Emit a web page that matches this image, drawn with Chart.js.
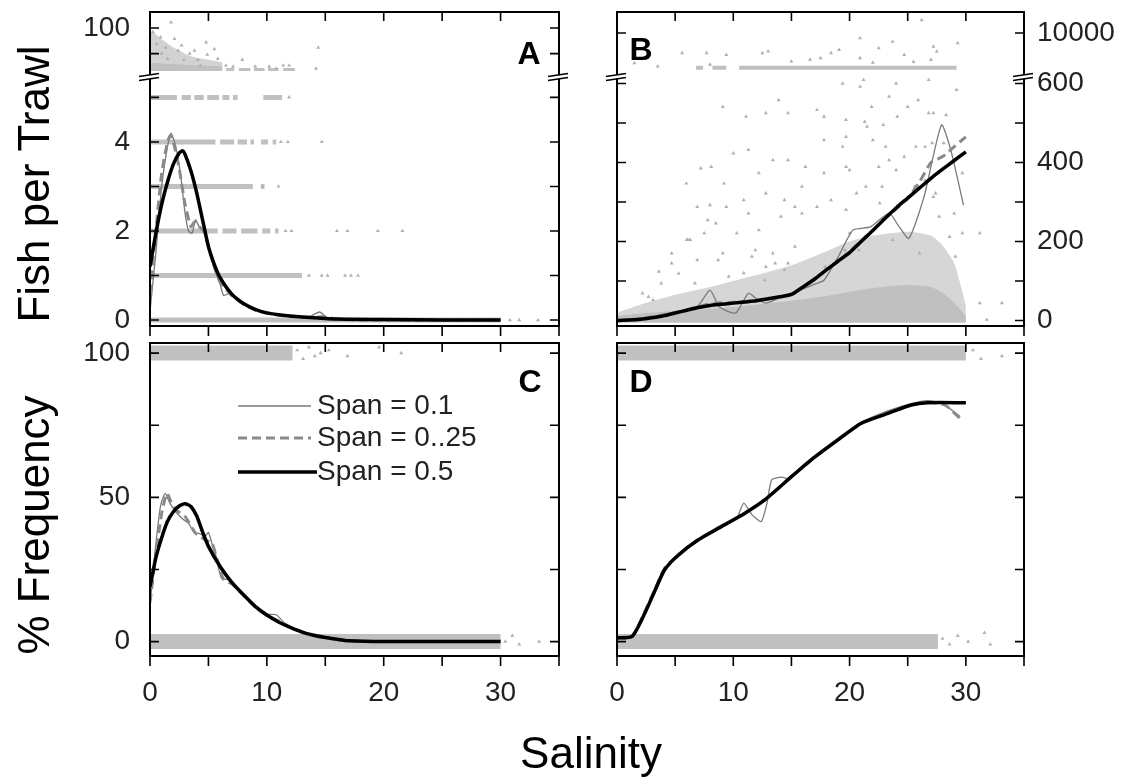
<!DOCTYPE html>
<html>
<head>
<meta charset="utf-8">
<script src="https://cdn.jsdelivr.net/npm/chart.js@4.4.1/dist/chart.umd.min.js"></script>
<style>
  html, body { margin: 0; padding: 0; background: #fff; }
  #wrap { position: relative; width: 1139px; height: 784px; }
  #wrap canvas { position: absolute; left: 0; top: 0; }
</style>
</head>
<body>
<div id="wrap">
  <canvas id="chartA" width="1139" height="784"></canvas>
  <canvas id="chartB" width="1139" height="784"></canvas>
  <canvas id="chartC" width="1139" height="784"></canvas>
  <canvas id="chartD" width="1139" height="784"></canvas>
</div>
<script>
// ---- tick positions ----
const salTicks = [0, 5, 10, 15, 20, 25, 30, 35];
const aLoTicks = [0, 1, 2, 3, 4, 5];
const aHiTicks = [50, 100];
const bLoTicks = [0, 100, 200, 300, 400, 500, 600];
const bHiTicks = [10000];
const freqTicks = [0, 25, 50, 75, 100];

// ---- panel A : fish per trawl, low salinity species ----
const aBoldX = [0, 0.5, 1, 1.5, 2, 2.5, 2.8, 3, 3.5, 4, 4.5, 5, 5.5, 6, 7, 8, 9, 10, 11, 12, 14, 16, 20, 25, 30];
const aBoldY = [1.2, 1.95, 2.6, 3.1, 3.5, 3.75, 3.8, 3.72, 3.35, 2.85, 2.25, 1.65, 1.25, 0.95, 0.58, 0.37, 0.24, 0.16, 0.12, 0.09, 0.05, 0.02, 0.01, 0, 0];
const aDashX = [0, 0.5, 1, 1.5, 1.75, 2, 2.5, 3, 3.5, 3.8, 4.2, 4.6, 5, 5.5, 6, 6.5, 7, 8, 9, 10, 12, 14, 15, 16, 18, 30];
const aDashY = [0.6, 2.0, 3.3, 4.0, 4.15, 4.0, 3.4, 2.6, 2.1, 2.2, 2.1, 2.0, 1.65, 1.2, 0.85, 0.7, 0.55, 0.35, 0.22, 0.15, 0.08, 0.06, 0.07, 0.02, 0, 0];
const aThinX = [0, 0.5, 1, 1.5, 1.8, 2.2, 2.6, 3.0, 3.3, 3.6, 3.9, 4.2, 4.6, 5, 5.5, 6, 6.3, 6.8, 7.5, 8.5, 10, 12, 13.5, 14.5, 15.2, 17, 30];
const aThinY = [0.2, 1.5, 3.0, 3.9, 4.2, 3.9, 3.3, 2.4, 2.0, 1.95, 2.25, 2.1, 2.0, 1.6, 1.15, 0.8, 0.55, 0.6, 0.45, 0.3, 0.15, 0.08, 0.05, 0.18, 0.05, 0, 0];

// observed counts (integer rows) : salinity runs and lone points
const aLevels = [0, 1, 2, 3, 4, 5];
const aRuns = [
  [[0, 30]],
  [[0, 13]],
  [[0, 5.8], [6.2, 7.4], [7.8, 9.2], [9.6, 10.3], [10.7, 11.0]],
  [[0, 8.8], [9.5, 9.8]],
  [[0, 5.6], [6.0, 7.2], [7.5, 8.3], [8.6, 8.9], [9.5, 10.1], [10.5, 10.8]],
  [[0, 2.3], [2.7, 3.5], [3.8, 4.6], [4.9, 5.9], [6.2, 6.8], [7.1, 7.5], [9.7, 11.3]]
];
const aLone = [
  [30.8, 31.6, 33.2],
  [13.6, 14.7, 15.2, 16.7, 17.2, 17.8],
  [11.6, 12.1, 16.0, 16.9, 19.5, 21.6],
  [9.6, 11.0],
  [11.2, 11.8, 14.7],
  [11.9]
];
// counts above the axis break
const aCloudX = [0, 0.5, 1, 1.5, 2, 2.5, 3, 3.5, 4, 4.5, 5, 5.5, 6.2];
const aHazeTop = [95, 88, 78, 70, 62, 56, 50, 45, 42, 40, 38, 36, 33];
const aCoreTop = [32, 32, 31, 30, 30, 29, 28, 28, 27, 27, 26, 26, 25];
const aHiRuns = [[6.5, 7.2], [7.6, 8.6], [8.9, 9.8], [10.1, 11.0], [11.4, 12.4]];
const aHiDots = [[0.25, 92], [0.56, 69], [1.34, 62], [1.8, 111], [2.1, 79], [2.4, 56], [2.7, 66], [3.4, 50], [3.8, 56],
  [4.8, 72], [4.9, 48], [5.5, 59], [5.8, 40], [7.9, 38], [11.9, 27], [14.4, 62], [14.2, 21], [0.9, 82], [1.0, 50],
  [1.5, 40], [2.9, 38], [4.1, 38], [4.3, 27], [6.5, 27], [7.1, 25], [9.0, 25], [10.2, 25], [10.8, 21], [11.4, 27]];

// ---- panel B : fish per trawl, high salinity species ----
const bX = [0, 1, 2, 3, 4, 5, 6, 7, 8, 9, 10, 11, 12, 13, 14, 15, 16, 17, 18, 19, 20, 21, 22, 23, 24, 25, 26, 27, 28, 29, 30];
const bBoldY = [0, 1, 3, 7, 12, 19, 26, 33, 38, 41, 44, 47, 50, 55, 60, 66, 85, 105, 128, 150, 172, 200, 228, 257, 285, 310, 335, 360, 383, 405, 427];
const bDashY = [0, 2, 5, 9, 14, 20, 27, 35, 42, 45, 46, 48, 51, 55, 60, 67, 84, 104, 128, 150, 175, 202, 228, 258, 282, 310, 350, 400, 415, 440, 465];
const bThinX = [0, 1, 2, 3, 4, 5, 6, 7, 8, 8.8, 10.2, 11.3, 12, 12.8, 14, 15, 16, 17, 17.8, 19, 20.3, 21.8, 23.4, 24.2, 25.1, 26.4, 27.9, 28.7, 29.8];
const bThinY = [0, 2, 5, 9, 15, 22, 28, 38, 77, 35, 19, 69, 55, 44, 58, 68, 80, 92, 102, 160, 229, 237, 272, 240, 208, 313, 495, 432, 292];
// density of the catch cloud below the break
const bCloudX = [0, 2, 5, 8, 10, 12, 15, 18, 20, 22, 25, 27, 28, 29, 30];
const bCoreTop = [12, 18, 24, 30, 34, 40, 50, 62, 72, 82, 90, 85, 70, 45, 12];
const bHazeTop = [20, 40, 65, 85, 100, 115, 140, 175, 200, 215, 225, 215, 190, 145, 40];
const bDots = [[5.96, 347], [7.2, 385], [8.1, 389], [9.2, 347], [10.0, 423], [11.3, 432], [12.8, 525], [14.7, 525], [11.1, 516],
  [9.1, 541], [13.9, 558], [17.2, 533], [17.8, 516], [19.4, 600], [20.9, 592], [21.2, 609], [21.9, 541], [23.4, 567],
  [24.0, 600], [25.0, 541], [25.9, 558], [26.8, 609], [27.2, 525], [29.2, 584], [17.8, 457], [19.7, 465], [21.5, 491],
  [23.1, 440], [24.7, 415], [26.5, 440], [28.1, 449], [16.2, 389], [14.7, 406], [13.4, 406], [12.2, 373], [17.8, 373],
  [19.7, 389], [22.5, 389], [24.0, 381], [15.9, 339], [14.4, 305], [12.8, 322], [10.9, 305], [9.4, 288], [8.5, 246],
  [6.3, 204], [7.5, 221], [10.3, 221], [12.2, 229], [14.1, 263], [15.9, 271], [17.2, 288], [18.4, 305], [20.6, 322],
  [22.8, 339], [25.6, 339], [27.2, 313], [29.0, 271], [29.7, 221], [31.2, 221], [31.2, 44], [33.1, 44], [31.8, 2],
  [4.7, 145], [3.8, 94], [5.3, 119], [6.9, 153], [9.1, 170], [11.6, 162], [13.4, 170], [15.3, 187], [6.9, 288],
  [6.0, 204], [7.8, 254], [2.2, 69], [3.1, 52], [10.9, 120], [12.8, 136], [14.7, 145],
  [19.7, 508], [21.3, 503], [22.9, 495], [24.1, 516], [26.8, 525], [28.3, 520], [19.4, 440], [22.0, 457], [23.4, 406],
  [25.7, 440], [27.1, 449], [29.7, 373], [20.0, 381], [21.4, 339], [26.5, 355], [27.4, 322], [19.7, 280], [22.6, 297],
  [27.7, 263], [20.0, 221], [23.7, 204], [28.6, 212], [29.1, 162], [20.8, 178], [26.0, 170],
  [8.0, 292], [11.3, 271], [15.3, 288], [6.1, 204], [4.7, 170], [3.6, 124], [8.7, 153], [11.9, 178], [13.6, 145],
  [2.7, 60], [6.7, 94], [9.6, 111], [12.7, 102], [14.4, 128], [17.9, 136], [19.6, 178], [21.3, 212]];
// counts above the break (600+)
const bHiRuns = [[6.8, 7.4], [8.2, 9.4], [10.5, 29.2]];
const bHiDots = [[5.6, 5680], [3.5, 2820], [7.7, 5680], [8.0, 3190], [9.4, 5315], [13.0, 6020], [17.5, 4610], [19.1, 6380],
  [20.9, 8880], [22.5, 6750], [23.7, 8170], [24.7, 5315], [26.2, 12790], [27.2, 7090], [27.5, 6020], [29.3, 7810],
  [20.9, 4610], [12.5, 5680], [18.4, 5680], [16.6, 4250], [1.5, 3500], [27.0, 4200], [25.5, 3800], [22.0, 3600], [15.0, 3900]];

// ---- panel C : % frequency, low salinity species ----
const cBoldX = [0, 0.5, 1, 1.5, 2, 2.5, 3, 3.5, 4, 4.5, 5, 6, 7, 8, 9, 10, 11, 12, 13, 14, 15, 16, 17, 20, 25, 30];
const cBoldY = [19, 29, 36, 41.7, 45, 47, 47.8, 46.8, 43.5, 38, 33, 26, 20.5, 16.2, 12.2, 9.2, 6.8, 4.9, 3.3, 2.2, 1.4, 0.8, 0.3, 0, 0, 0];
const cDashX = [0, 0.45, 1, 1.45, 1.8, 2.2, 3, 3.9, 4.7, 5.3, 5.7, 6.3, 7, 8, 9, 10, 11, 12, 14, 16, 18, 30];
const cDashY = [13.5, 28.4, 44.5, 51.4, 48.5, 45.7, 43.4, 37.6, 35.3, 34.1, 29, 21.5, 20, 16, 12, 9, 7.2, 5, 2.2, 0.7, 0.1, 0];
const cThinX = [0, 0.4, 0.9, 1.3, 1.7, 2.2, 2.8, 3.3, 3.8, 4.2, 4.7, 5.0, 5.3, 5.6, 6.1, 6.6, 7.2, 8, 9, 10, 10.8, 11.5, 13, 15, 17, 30];
const cThinY = [12, 30, 47, 51.4, 48, 45, 42.5, 41, 37.6, 37.5, 36.5, 37.8, 34, 30.5, 22, 21.5, 19.5, 16.5, 12.5, 9.5, 9.3, 6.5, 3.3, 1.2, 0.2, 0];
const cTopRuns = [[0, 12.2]];
const cBotRuns = [[0, 30]];
const cDots = [[12.6, 101], [13.1, 98], [13.6, 102], [14.1, 99], [14.6, 100], [15.3, 101], [16.9, 99], [19.6, 102], [21.5, 100],
  [30.4, 0], [31.0, 2], [31.6, -1], [33.3, 0]];

// ---- panel D : % frequency, high salinity species ----
const dBoldX = [0, 1.3, 2.4, 3.3, 4.1, 5.3, 7, 9, 11, 12.7, 14.7, 16.7, 19, 21, 23.3, 25.3, 26.7, 30];
const dBoldY = [1.3, 1.8, 9.9, 18, 24.9, 30.1, 35.3, 39.9, 44.5, 49.1, 56.1, 63, 69.9, 75.7, 79.1, 82, 82.8, 82.8];
const dDashX = [0, 1.3, 2.4, 3.3, 4.1, 5.3, 7, 9, 11, 12.7, 14.7, 16.7, 19, 21, 23.3, 25.3, 26.7, 28.2, 29.5];
const dDashY = [1.0, 1.8, 10.5, 18.5, 25.5, 30, 35.5, 40, 44.5, 49, 56, 63, 70, 75.5, 79.5, 82, 83, 82, 77.4];
const dThinX = [0, 1.3, 2.4, 3.3, 4.1, 5.3, 7, 9, 10.3, 10.9, 11.6, 12.4, 12.9, 13.3, 14.2, 14.7, 16.7, 19, 21, 23.3, 25.3, 26.7, 28, 29.5];
const dThinY = [1.5, 2, 10, 19, 25.5, 29.5, 35.5, 40.5, 43, 48, 44, 41.6, 48, 56, 57, 56.5, 63.5, 70.5, 76, 80, 82.5, 83.5, 82.5, 78];
const dTopRuns = [[0, 30]];
const dBotRuns = [[0, 27.6]];
const dDots = [[30.6, 101], [31.3, 98], [33.1, 99], [28.0, 1], [28.6, -1], [29.3, 2], [30.2, 0], [31.6, 3], [32.1, -1]];

const spanLabels = ['Span = 0.1', 'Span = 0..25', 'Span = 0.5'];

// ---------------------------------------------------------------
const GRAY = '#c0c0c0';
const FONT = 'Liberation Sans';
Chart.defaults.font.family = FONT;

const pts = (xs, ys) => xs.map((x, i) => ({x: x, y: ys[i]}));
const runs = (list, v) => list.flatMap(([a, b]) => [{x: a, y: v}, {x: b, y: v}, {x: b, y: null}]);
const pairs = (list) => list.map(([x, y]) => ({x: x, y: y}));

const thinStyle = {borderColor: '#7a7a7a', borderWidth: 1.3};
const dashStyle = {borderColor: '#8a8a8a', borderWidth: 3, borderDash: [9, 5]};
const boldStyle = {borderColor: '#000', borderWidth: 3.5};

function curve(xs, ys, style, axis) {
  return Object.assign({data: pts(xs, ys), yAxisID: axis, pointRadius: 0, fill: false, tension: 0.2}, style);
}
function band(data, width, axis) {
  return {data: data, yAxisID: axis, borderColor: GRAY, borderWidth: width, pointRadius: 0, fill: false, tension: 0};
}
function specks(data, axis) {
  return {data: data, yAxisID: axis, showLine: false, pointRadius: 2.3, pointStyle: 'triangle',
    backgroundColor: '#b0b0b0', borderColor: '#b0b0b0', pointBorderWidth: 0};
}
function area(xs, ys, color, base, axis) {
  return {data: pts(xs, ys), yAxisID: axis, borderWidth: 0, borderColor: 'rgba(0,0,0,0)', pointRadius: 0,
    backgroundColor: color, fill: {value: base}, tension: 0.2};
}
const fixTicks = values => s => { s.ticks = values.map(v => ({value: v})); };

function xScale(showLabels, h) {
  return {
    type: 'linear', min: 0, max: 35,
    afterBuildTicks: fixTicks(salTicks),
    ticks: {autoSkip: false, maxRotation: 0, display: showLabels,
      padding: 20, color: '#222', font: {size: 28},
      callback: v => (v % 10 === 0 && v <= 30) ? String(v) : ''},
    grid: {display: false, drawTicks: false},
    border: {display: false},
    afterFit: s => { s.height = h; s.paddingLeft = 0; s.paddingRight = 0; }
  };
}
function yScale(o) {
  return {
    type: 'linear', position: o.position, min: o.min, max: o.max,
    stack: o.stack, stackWeight: o.weight,
    afterBuildTicks: fixTicks(o.ticks),
    ticks: {autoSkip: false, display: o.label !== undefined,
      padding: o.pad, color: '#222', font: {size: 28}, callback: o.label},
    grid: {display: false, drawTicks: false},
    border: {display: false},
    afterFit: s => { s.width = o.width; s.paddingTop = 0; s.paddingBottom = 0; }
  };
}

// frame, inward ticks, axis breaks and panel letter
const framePlugin = {
  id: 'frame',
  afterDatasetsDraw(chart, args, opts) {
    const {ctx, chartArea: a, scales} = chart;
    ctx.save();
    ctx.strokeStyle = '#000';
    ctx.lineWidth = 2;
    ctx.strokeRect(a.left, a.top, a.right - a.left, a.bottom - a.top);
    ctx.lineWidth = 1.6;
    ctx.beginPath();
    scales.x.ticks.forEach(t => {
      const px = scales.x.getPixelForValue(t.value);
      ctx.moveTo(px, a.top); ctx.lineTo(px, a.top + 9);
      ctx.moveTo(px, a.bottom); ctx.lineTo(px, a.bottom + 10);
    });
    Object.values(scales).filter(s => s.axis === 'y').forEach(s => {
      s.ticks.forEach(t => {
        const py = s.getPixelForValue(t.value);
        ctx.moveTo(a.left, py); ctx.lineTo(a.left + 9, py);
        ctx.moveTo(a.right, py); ctx.lineTo(a.right - 9, py);
      });
    });
    ctx.stroke();
    if (scales.yHi) {
      const yb = scales.yHi.bottom;
      [a.left, a.right].forEach(x => {
        ctx.fillStyle = '#fff';
        ctx.fillRect(x - 3, yb - 1.5, 6, 4);
        ctx.beginPath();
        ctx.lineWidth = 1.6;
        ctx.moveTo(x - 11, yb); ctx.lineTo(x + 9, yb - 3);
        ctx.moveTo(x - 11, yb + 4); ctx.lineTo(x + 9, yb + 1);
        ctx.stroke();
      });
    }
    ctx.fillStyle = '#000';
    ctx.font = 'bold 32px ' + FONT;
    ctx.textAlign = 'center';
    ctx.textBaseline = 'middle';
    ctx.fillText(opts.letter, opts.lx, opts.ly);
    ctx.restore();
  }
};

// legend of panel C and the shared axis titles
const notesPlugin = {
  id: 'notes',
  afterDraw(chart, args, opts) {
    const ctx = chart.ctx;
    ctx.save();
    const ds = chart.data.datasets;
    const order = [2, 1, 0];
    order.forEach((di, i) => {
      const d = ds[di];
      const y = opts.rowY[i];
      ctx.beginPath();
      ctx.strokeStyle = d.borderColor;
      ctx.lineWidth = d.borderWidth;
      ctx.setLineDash(d.borderDash || []);
      ctx.moveTo(opts.lineX0, y);
      ctx.lineTo(i === 2 ? opts.textX : opts.lineX1, y);
      ctx.stroke();
      ctx.setLineDash([]);
      ctx.fillStyle = '#222';
      ctx.font = '28px ' + FONT;
      ctx.textAlign = 'left';
      ctx.textBaseline = 'middle';
      ctx.fillText(spanLabels[i], opts.textX, y);
    });
    ctx.fillStyle = '#000';
    ctx.font = '44px ' + FONT;
    ctx.textAlign = 'center';
    ctx.textBaseline = 'alphabetic';
    ctx.fillText('Salinity', 591, 768);
    [['Fish per Trawl', 184], ['% Frequency', 525]].forEach(([txt, cy]) => {
      ctx.save();
      ctx.translate(49, cy);
      ctx.rotate(-Math.PI / 2);
      ctx.fillText(txt, 0, 0);
      ctx.restore();
    });
    ctx.restore();
  }
};

const common = {
  responsive: false,
  animation: false,
  events: []
};
const basePlugins = {legend: {display: false}, tooltip: {enabled: false}, colors: {enabled: false}};

// ---- chart A ----
const aSets = [
  curve(aBoldX, aBoldY, boldStyle, 'yLo'),
  curve(aDashX, aDashY, dashStyle, 'yLo'),
  curve(aThinX, aThinY, thinStyle, 'yLo'),
  specks(pairs(aHiDots), 'yHi')
];
aLevels.forEach((v, i) => aSets.push(specks(aLone[i].map(x => ({x: x, y: v})), 'yLo')));
aLevels.forEach((v, i) => aSets.push(band(runs(aRuns[i], v), 5, 'yLo')));
aSets.push(band(runs(aHiRuns, 19), 3, 'yHi'));
aSets.push(area(aCloudX, aCoreTop, GRAY, 16, 'yHi'));
aSets.push(area(aCloudX, aHazeTop, '#d2d2d2', 16, 'yHi'));

new Chart(document.getElementById('chartA'), {
  type: 'line',
  data: {datasets: aSets},
  options: Object.assign({}, common, {
    layout: {padding: {left: 0, top: 12, right: 580, bottom: 438}},
    scales: {
      x: xScale(false, 20),
      yLo: yScale({position: 'left', min: -0.135, max: 5.47, ticks: aLoTicks, stack: 'a', weight: 249.5, width: 150, pad: 20,
        label: v => (v % 2 === 0 ? String(v) : '')}),
      yHi: yScale({position: 'left', min: 5.5, max: 131.2, ticks: aHiTicks, stack: 'a', weight: 64.5, width: 150, pad: 20,
        label: v => (v === 100 ? '100' : '')})
    },
    plugins: Object.assign({}, basePlugins, {frame: {letter: 'A', lx: 529, ly: 55}})
  }),
  plugins: [framePlugin]
});

// ---- chart B ----
new Chart(document.getElementById('chartB'), {
  type: 'line',
  data: {datasets: [
    curve(bX, bBoldY, boldStyle, 'yLo'),
    curve(bX, bDashY, dashStyle, 'yLo'),
    curve(bThinX, bThinY, thinStyle, 'yLo'),
    specks(pairs(bDots), 'yLo'),
    specks(pairs(bHiDots), 'yHi'),
    band(runs(bHiRuns, 2500), 4, 'yHi'),
    area(bCloudX, bCoreTop, GRAY, -5, 'yLo'),
    area(bCloudX, bHazeTop, '#d6d6d6', -5, 'yLo')
  ]},
  options: Object.assign({}, common, {
    layout: {padding: {left: 617, top: 12, right: 0, bottom: 438}},
    scales: {
      x: xScale(false, 20),
      yHi: yScale({position: 'right', min: 618, max: 14536, ticks: bHiTicks, stack: 'b', weight: 64.5, width: 115, pad: 13,
        label: v => String(v)}),
      yLo: yScale({position: 'right', min: -13.9, max: 617.7, ticks: bLoTicks, stack: 'b', weight: 249.5, width: 115, pad: 13,
        label: v => (v % 200 === 0 ? String(v) : '')})
    },
    plugins: Object.assign({}, basePlugins, {frame: {letter: 'B', lx: 641, ly: 51}})
  }),
  plugins: [framePlugin]
});

// ---- chart C ----
new Chart(document.getElementById('chartC'), {
  type: 'line',
  data: {datasets: [
    curve(cBoldX, cBoldY, boldStyle, 'y'),
    curve(cDashX, cDashY, dashStyle, 'y'),
    curve(cThinX, cThinY, thinStyle, 'y'),
    specks(pairs(cDots), 'y'),
    band(runs(cTopRuns, 100), 15, 'y'),
    band(runs(cBotRuns, 0), 15, 'y')
  ]},
  options: Object.assign({}, common, {
    layout: {padding: {left: 0, top: 343, right: 580, bottom: 68}},
    scales: {
      x: xScale(true, 60),
      y: yScale({position: 'left', min: -5, max: 103.5, ticks: freqTicks, width: 150, pad: 20,
        label: v => (v % 50 === 0 ? String(v) : '')})
    },
    plugins: Object.assign({}, basePlugins, {
      frame: {letter: 'C', lx: 530, ly: 383},
      notes: {lineX0: 238, lineX1: 311, textX: 317, rowY: [406, 438, 472]}
    })
  }),
  plugins: [framePlugin, notesPlugin]
});

// ---- chart D ----
new Chart(document.getElementById('chartD'), {
  type: 'line',
  data: {datasets: [
    curve(dBoldX, dBoldY, boldStyle, 'y'),
    curve(dDashX, dDashY, dashStyle, 'y'),
    curve(dThinX, dThinY, thinStyle, 'y'),
    specks(pairs(dDots), 'y'),
    band(runs(dTopRuns, 100), 15, 'y'),
    band(runs(dBotRuns, 0), 15, 'y')
  ]},
  options: Object.assign({}, common, {
    layout: {padding: {left: 607, top: 343, right: 115, bottom: 68}},
    scales: {
      x: xScale(true, 60),
      y: yScale({position: 'left', min: -5, max: 103.5, ticks: freqTicks, width: 10, pad: 0})
    },
    plugins: Object.assign({}, basePlugins, {frame: {letter: 'D', lx: 641, ly: 383}})
  }),
  plugins: [framePlugin]
});
</script>
</body>
</html>
